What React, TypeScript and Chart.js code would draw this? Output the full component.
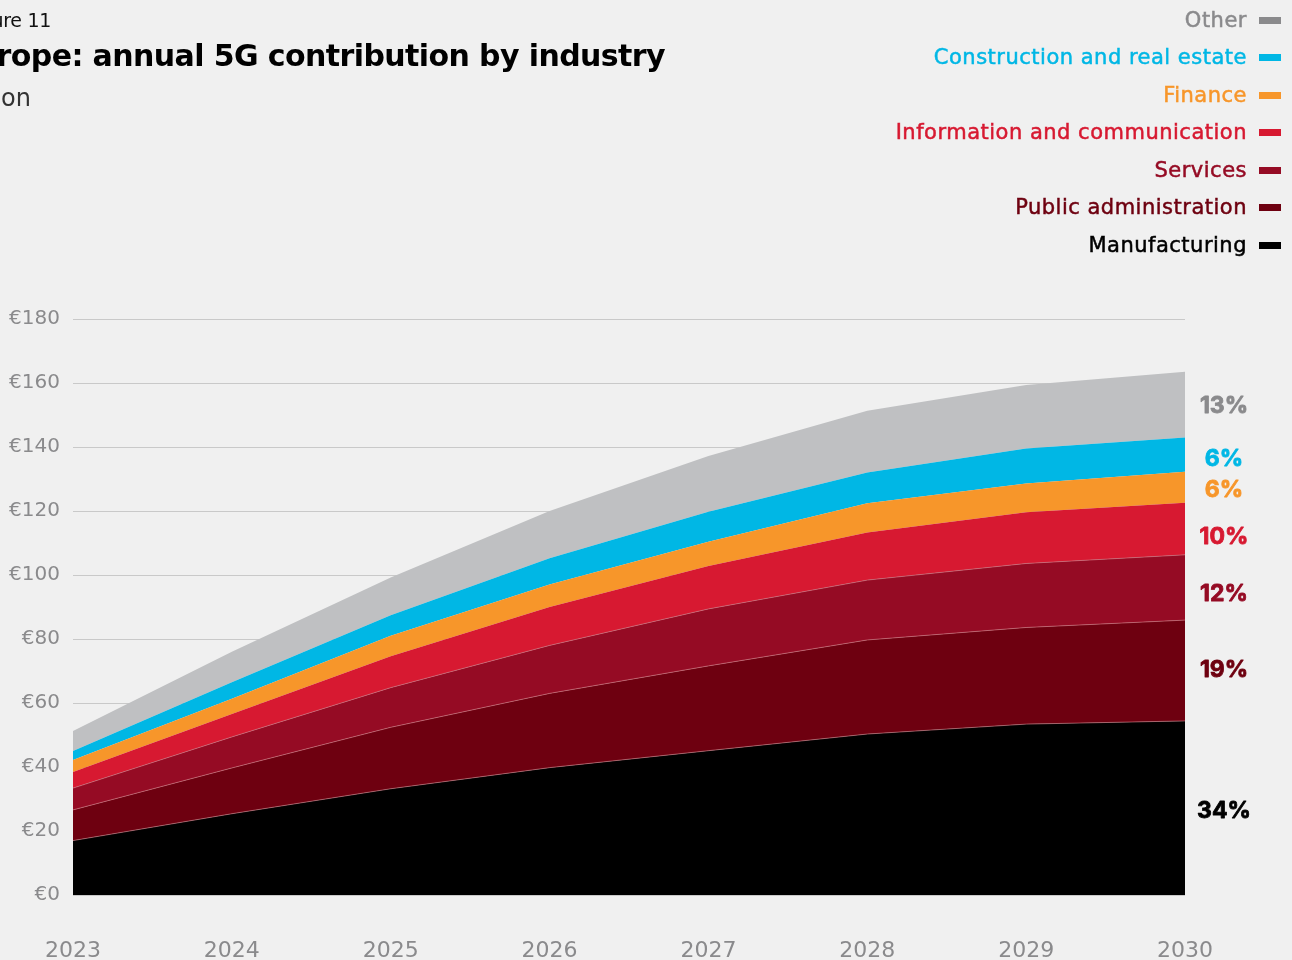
import React, { useEffect, useRef } from "react";
import { Chart, registerables } from "chart.js";

Chart.register(...registerables);

const years = ["2023", "2024", "2025", "2026", "2027", "2028", "2029", "2030"];
const manufacturing = [17, 25.4, 33.2, 39.8, 45.1, 50.3, 53.4, 54.4];
const publicAdmin = [9.6, 14.3, 19.2, 23.2, 26.5, 29.4, 30.2, 31.5];
const services = [6.8, 9.7, 12.4, 15.0, 17.8, 18.7, 20.0, 20.4];
const infoComm = [5.0, 7.2, 9.8, 12.0, 13.4, 14.9, 16.0, 16.3];
const finance = [3.8, 4.7, 6.4, 7.0, 7.6, 9.1, 9.0, 9.7];
const construction = [2.8, 5.2, 6.4, 8.2, 9.4, 9.6, 10.9, 10.7];
const other = [6.25, 9.5, 11.8, 14.8, 17.4, 19.3, 19.9, 20.5];

const seriesNames = [
  "Manufacturing",
  "Public administration",
  "Services",
  "Information and communication",
  "Finance",
  "Construction and real estate",
  "Other",
];
const seriesValues = [manufacturing, publicAdmin, services, infoComm, finance, construction, other];
const fillColors = ["#000000", "#6e0010", "#950b24", "#d71931", "#f7962a", "#00b7e5", "#bfc0c2"];
const textColors = ["#000000", "#6e0010", "#950b24", "#d71931", "#f7962a", "#00b7e5", "#8a8a8c"];
const shareLabels = ["34%", "19%", "12%", "10%", "6%", "6%", "13%"];
const yTickValues = [0, 20, 40, 60, 80, 100, 120, 140, 160, 180];

const titleText = "Europe: annual 5G contribution by industry";
const figureText = "Figure 11";
const unitText = "€ billion";

// small vertical nudges (px) for the share labels, style only
const labelNudge = [3, 0, 7, 8, 3, 5, 1];

const shareLabelPlugin = {
  id: "shareLabels",
  afterDatasetsDraw(chart: any) {
    const ctx = chart.ctx;
    const yScale = chart.scales.y;
    const last = years.length - 1;
    let base = 0;
    ctx.save();
    ctx.font = "bold 23px Inter";
    ctx.textAlign = "center";
    ctx.textBaseline = "middle";
    ctx.lineWidth = 0.8;
    ctx.lineJoin = "round";
    seriesValues.forEach((vals, i) => {
      const top = base + vals[last];
      const mid = (base + top) / 2;
      const y = yScale.getPixelForValue(mid) + labelNudge[i];
      ctx.fillStyle = textColors[i];
      ctx.strokeStyle = textColors[i];
      const x = chart.chartArea.right + 39;
      ctx.fillText(shareLabels[i], x, y);
      ctx.strokeText(shareLabels[i], x, y);
      base = top;
    });
    ctx.restore();
  },
};

function ChartCanvas() {
  const ref = useRef<HTMLCanvasElement | null>(null);
  useEffect(() => {
    if (!ref.current) return;
    const sepColor = "rgba(210,120,130,0.8)";
    const chart = new Chart(ref.current, {
      type: "line",
      data: {
        labels: years,
        datasets: seriesValues.map((vals, i) => ({
          label: seriesNames[i],
          data: vals,
          backgroundColor: fillColors[i],
          borderColor: i < 3 ? sepColor : fillColors[i],
          borderWidth: i < 3 ? 0.8 : 0,
          fill: i === 0 ? "origin" : "-1",
          pointRadius: 0,
          tension: 0,
        })),
      },
      options: {
        responsive: false,
        devicePixelRatio: 1,
        animation: false,
        events: [],
        layout: { padding: { top: 319, right: 107, bottom: 0, left: 0 } },
        plugins: { legend: { display: false }, tooltip: { enabled: false } },
        scales: {
          x: {
            grid: { display: false, drawTicks: false },
            border: { display: false },
            ticks: {
              color: "#8a8a8c",
              font: { family: "'DejaVu Sans'", size: 22 },
              padding: 43,
              maxRotation: 0,
            },
            afterFit(scale: any) {
              scale.height = 65;
            },
          },
          y: {
            stacked: true,
            min: 0,
            max: 180,
            afterBuildTicks(scale: any) {
              scale.ticks = yTickValues.map((v) => ({ value: v }));
            },
            grid: { color: "#c9c9c9", lineWidth: 1, drawTicks: false },
            border: { display: false },
            ticks: {
              color: "#8a8a8c",
              font: { family: "'DejaVu Sans'", size: 20 },
              padding: 13,
              callback: (v: any) => "€" + v,
            },
            afterFit(scale: any) {
              scale.width = 73;
            },
          },
        },
      },
      plugins: [shareLabelPlugin],
    });
    return () => chart.destroy();
  }, []);
  return (
    <canvas
      ref={ref}
      width={1292}
      height={960}
      style={{ position: "absolute", left: 0, top: 0, width: 1292, height: 960 }}
    />
  );
}

const legendRowsY = [20, 57, 95, 132, 170, 207, 245];

export default function App() {
  const legendOrder = [6, 5, 4, 3, 2, 1, 0];
  return (
    <div
      style={{
        position: "fixed",
        left: 0,
        top: 0,
        width: 1292,
        height: 960,
        overflow: "hidden",
        background: "#f0f0f0",
        fontFamily: "'DejaVu Sans', sans-serif",
      }}
    >
      <ChartCanvas />
      <div
        style={{
          position: "absolute",
          right: 1292 - 51,
          top: 6,
          fontSize: 19,
          color: "#111",
          whiteSpace: "nowrap",
          lineHeight: "28px",
          letterSpacing: -0.3,
        }}
      >
        {figureText}
      </div>
      <div
        style={{
          position: "absolute",
          right: 1292 - 665,
          top: 36,
          fontSize: 30,
          fontWeight: "bold",
          color: "#000",
          whiteSpace: "nowrap",
          lineHeight: "40px",
          letterSpacing: -0.6,
        }}
      >
        {titleText}
      </div>
      <div
        style={{
          position: "absolute",
          right: 1292 - 31,
          top: 82,
          fontSize: 24,
          color: "#333",
          whiteSpace: "nowrap",
          lineHeight: "32px",
        }}
      >
        {unitText}
      </div>
      {legendOrder.map((idx, r) => (
        <div
          key={idx}
          style={{
            position: "absolute",
            right: 11,
            top: legendRowsY[r] - 15,
            height: 30,
            display: "flex",
            alignItems: "center",
            whiteSpace: "nowrap",
          }}
        >
          <span
            style={{
              color: textColors[idx],
              fontSize: 21,
              letterSpacing: 0.5,
              WebkitTextStroke: "0.5px currentColor",
            }}
          >
            {seriesNames[idx]}
          </span>
          <span
            style={{
              display: "inline-block",
              width: 22,
              height: 7,
              marginLeft: 12,
              background: idx === 6 ? "#8a8a8c" : fillColors[idx],
            }}
          />
        </div>
      ))}
    </div>
  );
}
